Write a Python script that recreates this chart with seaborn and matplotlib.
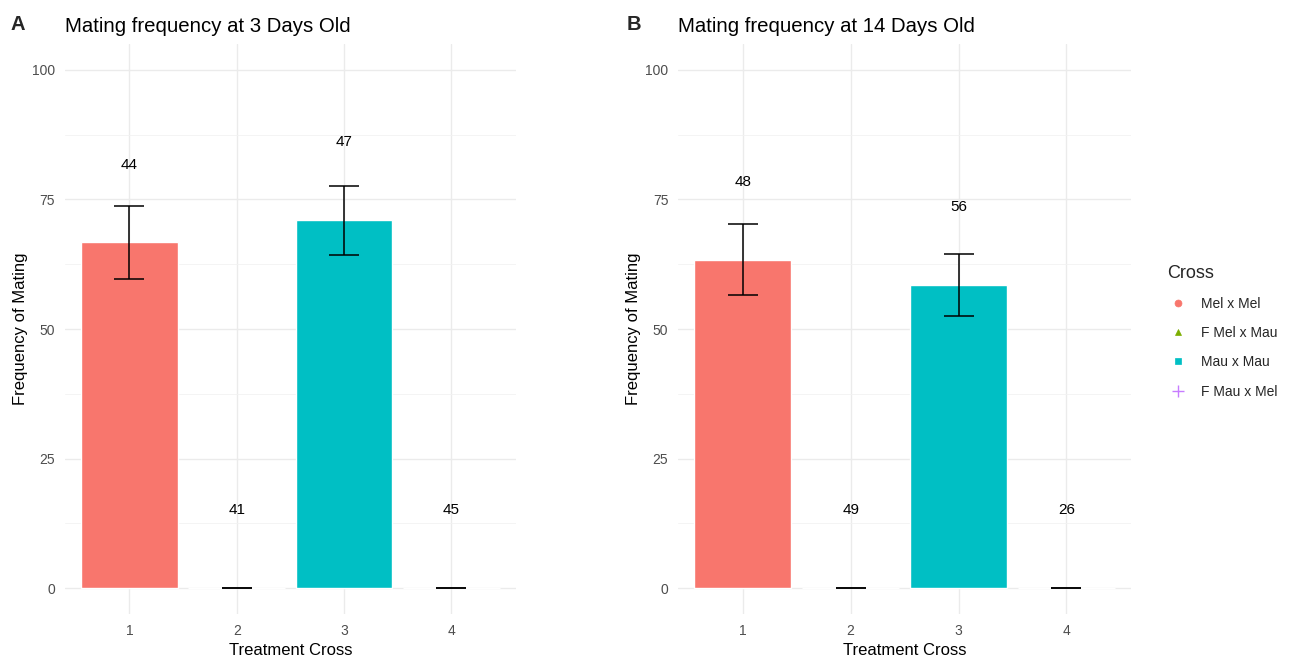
import pandas as pd
import seaborn as sns
import matplotlib.pyplot as plt
from matplotlib.lines import Line2D

crosses = ['Mel x Mel', 'F Mel x Mau', 'Mau x Mau', 'F Mau x Mel']
treatment = [1, 2, 3, 4]
colors = ['#F8766D', '#7CAE00', '#00BFC4', '#C77CFF']
markers = ['o', '^', 's', '+']

freq_3d = [66.7, 0, 71.0, 0]
se_3d = [7.1, 0, 6.65, 0]
n_3d = [44, 41, 47, 45]

freq_14d = [63.4, 0, 58.5, 0]
se_14d = [6.9, 0, 6.05, 0]
n_14d = [48, 49, 56, 26]

panels = [
    ('A', 'Mating frequency at 3 Days Old', freq_3d, se_3d, n_3d),
    ('B', 'Mating frequency at 14 Days Old', freq_14d, se_14d, n_14d),
]

sns.set_theme(style='white')
plt.rcParams['font.family'] = ['Liberation Sans', 'DejaVu Sans']

fig = plt.figure(figsize=(12.94, 6.57), dpi=100)
axes = [fig.add_axes([0.0502, 0.0654, 0.3485, 0.8676]),
        fig.add_axes([0.524, 0.0654, 0.3501, 0.8676])]
tag_x = [18 / 1294, 634 / 1294]

for ax, tx, (tag, title, freq, se, n) in zip(axes, tag_x, panels):
    df = pd.DataFrame({'treatment': treatment, 'freq': freq, 'se': se,
                       'n': n, 'cross': crosses})
    ax.set_axisbelow(True)
    ax.set_yticks([12.5, 37.5, 62.5, 87.5], minor=True)
    ax.grid(which='major', color='#EBEBEB', linewidth=1.0)
    ax.grid(which='minor', axis='y', color='#F2F2F2', linewidth=0.6)
    sns.barplot(data=df, x='treatment', y='freq', hue='cross',
                hue_order=crosses, palette=colors, native_scale=True,
                width=0.9, dodge=False, errorbar=None, legend=False,
                saturation=1, ax=ax)
    ax.errorbar(df['treatment'], df['freq'], yerr=df['se'], fmt='none',
                ecolor='black', elinewidth=1.1, capsize=11, capthick=1.1)
    for x, y, lab in zip(df['treatment'], df['freq'], df['n']):
        ax.text(x, y + 15, str(lab), ha='center', va='center',
                fontsize=11, color='black')
    ax.set_xlim(0.4, 4.6)
    ax.set_ylim(-5, 105)
    ax.set_xticks(treatment)
    ax.set_xticklabels([str(t) for t in treatment])
    ax.set_yticks([0, 25, 50, 75, 100])
    ax.tick_params(axis='both', which='both', length=0, labelsize=10,
                   labelcolor='#4D4D4D', pad=7)
    for s in ax.spines.values():
        s.set_visible(False)
    ax.set_xlabel('Treatment Cross', fontsize=12, color='black', labelpad=4)
    ax.set_ylabel('Frequency of Mating', fontsize=12, color='black', labelpad=3)
    ax.set_title(title, loc='left', fontsize=14.7, color='black', pad=9)
    fig.text(tx, 1 - 25 / 657, tag, fontsize=14.5, fontweight='bold',
             ha='center', va='center')

handles = [Line2D([], [], linestyle='none', marker=m, color=c,
                  markersize=5 if m != '+' else 8, markeredgewidth=1 if m == '+' else 0.5)
           for m, c in zip(markers, colors)]
fig.legend(handles, crosses, title='Cross', loc='upper left',
           bbox_to_anchor=(1155 / 1294, 1 - 252 / 657), frameon=False,
           fontsize=10, title_fontsize=13, alignment='left',
           handletextpad=0.9, labelspacing=1.1, handlelength=1.5)

fig.savefig('out.png', dpi=100)
